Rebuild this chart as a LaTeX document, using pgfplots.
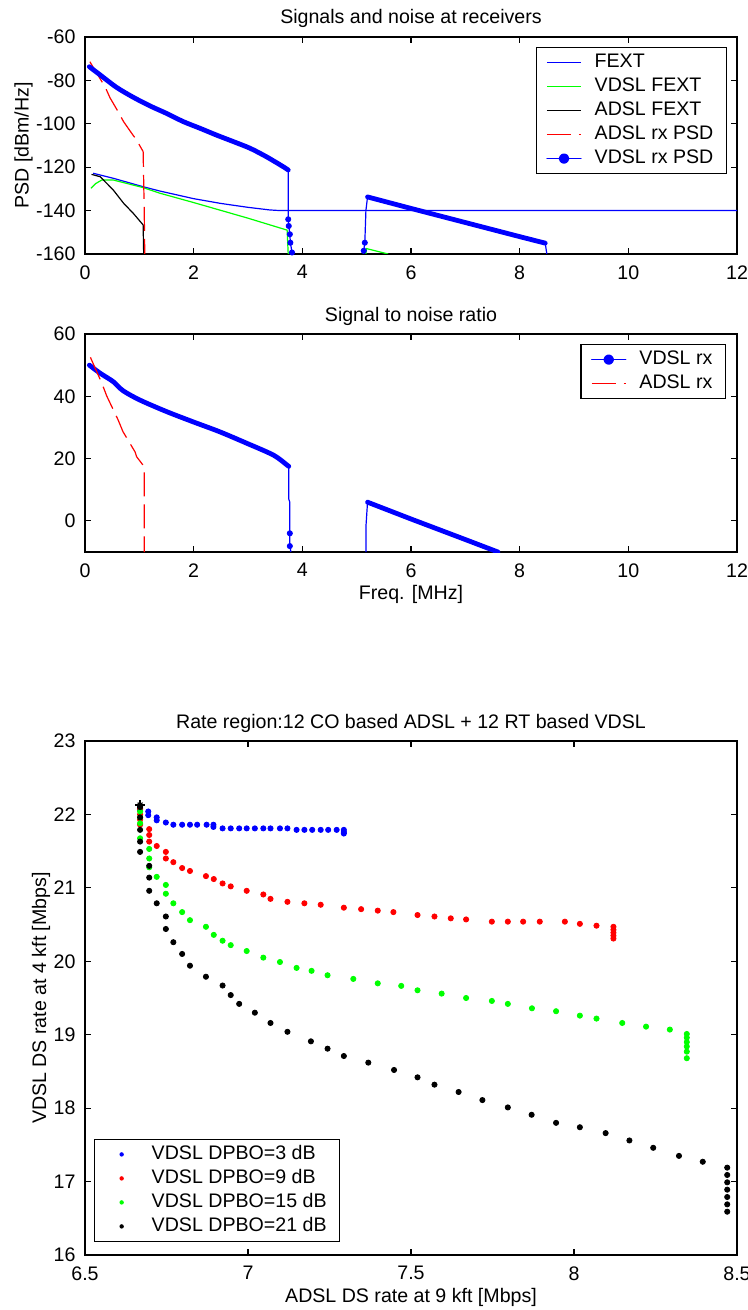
\documentclass[border=0pt]{standalone}
\usepackage{fontspec}
\setmainfont{Liberation Sans}
\usepackage{pgfplots}
\pgfplotsset{compat=1.18}

\definecolor{mblue}{RGB}{0,0,255}
\definecolor{mgreen}{RGB}{0,255,0}
\definecolor{mred}{RGB}{255,0,0}

\pgfplotsset{
  matfig/.style={
    scale only axis,
    width=326pt,
    tick align=inside,
    major tick length=3.2pt,
    axis line style={line width=0.6pt},
    every tick/.style={black,line width=0.6pt},
    /pgf/number format/assume math mode=true,
    xticklabel style={yshift=-2.2pt},
    yticklabel style={xshift=-1.3pt},
    title style={yshift=-5pt},
    ylabel shift=-5pt,
    xlabel shift=-2.5pt,
    legend cell align=left,
    legend style={draw=black, line width=0.6pt, inner xsep=5pt, inner ysep=1.5pt,
      column sep=5pt,
      nodes={inner sep=1.5pt, text height=7pt, text depth=2pt}},
  },
  thinl/.style={line width=0.6pt},
  band/.style={mblue, line width=2.4pt, line cap=round, line join=round},
  dotleg/.style={legend image code/.code={
      \draw[mblue, line width=0.6pt] (0cm,0cm) -- (0.6cm,0cm);
      \fill[mblue] (0.3cm,0cm) circle (1.4pt);}},
  rdash/.style={mred, line width=0.6pt, dash pattern=on 12pt off 4pt},
  rdot/.style={only marks, mark=*, mark size=1.3pt,
    legend image code/.code={
      \path[draw=none, fill=none] (0cm,0cm) -- (0.6cm,0cm);
      \fill[##1, draw=none] (0.3cm,0cm) circle (1.1pt);}},
}

\begin{document}
\fontsize{9.8}{11.8}\selectfont
\begin{tikzpicture}[font=\fontsize{9.8}{11.8}\selectfont]
\path[use as bounding box] (0,0) rectangle (374pt,-655pt);

% ---------- PSD ----------
\begin{axis}[matfig, at={(42.5pt,-127pt)}, anchor=south west, height=108.5pt,
  xmin=0, xmax=12, ymin=-160, ymax=-60,
  xtick={0,2,4,6,8,10,12}, ytick={-160,-140,-120,-100,-80,-60},
  yticklabels={-160,-140,-120,-100,-80,-60},
  ylabel={PSD [dBm/Hz]},
  title={Signals and noise at receivers},
  legend style={at={(1,1)}, anchor=north east, xshift=-5pt, yshift=-5pt},
]
\addplot[mblue, thinl] coordinates {
(0.15,-122.8) (0.52,-125.1) (1.07,-129) (1.38,-131) (2,-134.5) (2.5,-136.7)
(3,-138.5) (3.4,-139.7) (3.6,-140) (12,-140)};
\addlegendentry{FEXT}
\addplot[mgreen, thinl] coordinates {
(0.11,-129.7) (0.2,-127.5) (0.31,-125.9) (0.52,-125.9) (1.07,-129.4) (1.38,-132)
(2,-136.3) (3,-143.5) (3.72,-149) (3.74,-160)};
\addlegendentry{VDSL FEXT}
\addplot[mgreen, thinl, forget plot] coordinates {(5.17,-160) (5.18,-157.5) (5.58,-160)};
\addplot[black, thinl] coordinates {
(0.12,-123.3) (0.28,-124.4) (0.52,-130.5) (0.71,-136.6) (0.89,-141.3) (1.07,-146.6) (1.08,-160)};
\addlegendentry{ADSL FEXT}
\addplot[rdash] coordinates {
(0.09,-71.4) (0.2,-76) (0.37,-83) (0.46,-88) (0.6,-94) (0.71,-99) (0.86,-104.4)
(0.95,-107.5) (1.07,-112.8) (1.09,-140) (1.1,-160)};
\addlegendentry{ADSL rx PSD}
\addplot[band, dotleg, smooth] coordinates {
(0.08,-73.7) (0.28,-77.5) (0.58,-83.2) (0.89,-87.8) (1.2,-91.8) (1.5,-95.2)
(1.81,-99) (2.12,-102.1) (2.42,-105.2) (2.73,-108.2) (3.04,-111.3) (3.34,-115.2)
(3.65,-119.8) (3.74,-121.3)};
\addlegendentry{VDSL rx PSD\hspace{2pt}}
\addplot[mblue, thinl, forget plot] coordinates {
(3.74,-121.3) (3.74,-144) (3.75,-147.1) (3.77,-150.9) (3.78,-154.8) (3.81,-159.3) (3.82,-160)};
\addplot[mblue, rdot, forget plot] coordinates {
(3.74,-144) (3.75,-147.1) (3.77,-150.9) (3.78,-154.8) (3.81,-159.3)};
\addplot[mblue, thinl, forget plot] coordinates {
(5.12,-160) (5.13,-158.5) (5.15,-154.8) (5.17,-140) (5.2,-133.7)};
\addplot[mblue, rdot, forget plot] coordinates {(5.13,-158.5) (5.15,-154.8)};
\addplot[band, forget plot] coordinates {
(5.2,-133.7) (6,-139) (7,-145.5) (8,-152) (8.47,-155)};
\addplot[mblue, thinl, forget plot] coordinates {(8.47,-155) (8.5,-160)};
\end{axis}

% ---------- SNR ----------
\begin{axis}[matfig, at={(42.5pt,-276pt)}, anchor=south west, height=109pt,
  xmin=0, xmax=12, ymin=-10, ymax=60,
  xtick={0,2,4,6,8,10,12}, ytick={0,20,40,60},
  xlabel={Freq. [MHz]},
  title={Signal to noise ratio},
  legend style={at={(1,1)}, anchor=north east, xshift=-5.5pt, yshift=-5pt},
]
\addplot[band, dotleg, smooth] coordinates {
(0.08,50) (0.28,47.4) (0.52,44.7) (0.70,41.8) (1.01,38.8) (1.5,35.1) (1.99,31.8)
(2.48,28.6) (2.98,24.9) (3.47,21.1) (3.72,17.9) (3.75,17.5)};
\addlegendentry{VDSL rx\hspace{2pt}}
\addplot[mblue, thinl, forget plot] coordinates {
(3.75,17.5) (3.75,7) (3.77,6) (3.77,-4) (3.77,-8.1) (3.79,-10)};
\addplot[mblue, rdot, forget plot] coordinates {(3.77,-4) (3.77,-8.1)};
\addplot[mblue, thinl, forget plot] coordinates {(5.17,-10) (5.17,-2) (5.2,6)};
\addplot[band, forget plot] coordinates {(5.2,6) (6,0.6) (7,-6) (7.6,-10)};
\addplot[rdash] coordinates {
(0.1,52.5) (0.31,44.2) (0.40,40.1) (0.61,32.4) (0.70,28.6) (0.92,22.2) (0.95,20.6)
(1.09,17.4) (1.09,-10)};
\addlegendentry{ADSL rx}
\end{axis}

% ---------- rate region ----------
\begin{axis}[matfig, at={(42.5pt,-627.5pt)}, anchor=south west, height=257pt,
  xmin=6.5, xmax=8.5, ymin=16, ymax=23,
  xtick={6.5,7,7.5,8,8.5}, ytick={16,17,18,19,20,21,22,23},
  xlabel={ADSL DS rate at 9 kft [Mbps]},
  ylabel={VDSL DS rate at 4 kft [Mbps]},
  title={Rate region:12 CO based ADSL + 12 RT based VDSL},
  legend style={at={(0,0)}, anchor=south west, xshift=4.5pt, yshift=6.5pt},
]
\addplot[mblue, rdot] coordinates {
(6.669,22.11) (6.669,22.06) (6.694,22.04) (6.694,21.99) (6.720,21.96) (6.720,21.92)
(6.748,21.89) (6.771,21.86) (6.798,21.86) (6.822,21.86) (6.844,21.86) (6.873,21.86)
(6.894,21.86) (6.894,21.83) (6.922,21.81) (6.947,21.81) (6.973,21.81) (6.996,21.81)
(7.021,21.81) (7.047,21.81) (7.069,21.81) (7.098,21.81) (7.121,21.81) (7.149,21.79)
(7.173,21.79) (7.197,21.79) (7.223,21.79) (7.246,21.79) (7.272,21.79) (7.294,21.79)
(7.294,21.76) (7.294,21.74)};
\addlegendentry{VDSL DPBO=3 dB}
\addplot[mred, rdot] coordinates {
(6.669,22.08) (6.669,22.0) (6.669,21.93) (6.669,21.86) (6.697,21.80) (6.697,21.72)
(6.697,21.63) (6.720,21.57) (6.748,21.49) (6.748,21.40) (6.771,21.35) (6.798,21.27)
(6.822,21.23) (6.871,21.16) (6.895,21.12) (6.922,21.06) (6.947,21.02) (6.996,20.96)
(7.047,20.91) (7.069,20.85) (7.121,20.81) (7.173,20.79) (7.223,20.77) (7.294,20.73)
(7.347,20.71) (7.398,20.69) (7.446,20.67) (7.520,20.63) (7.572,20.61) (7.622,20.585)
(7.669,20.57) (7.748,20.54) (7.797,20.54) (7.844,20.54) (7.895,20.54) (7.972,20.54)
(8.018,20.51) (8.069,20.485) (8.121,20.47) (8.121,20.43) (8.121,20.39) (8.121,20.35)
(8.121,20.31)};
\addlegendentry{VDSL DPBO=9 dB}
\addplot[mgreen, rdot] coordinates {
(6.669,22.04) (6.669,21.96) (6.669,21.88) (6.669,21.675) (6.697,21.53) (6.697,21.40)
(6.697,21.28) (6.720,21.15) (6.748,21.04) (6.748,20.92) (6.771,20.79) (6.798,20.67)
(6.822,20.56) (6.871,20.47) (6.895,20.36) (6.922,20.28) (6.947,20.22) (6.996,20.14)
(7.047,20.05) (7.098,19.99) (7.149,19.91) (7.195,19.87) (7.244,19.81) (7.323,19.76)
(7.398,19.70) (7.470,19.665) (7.520,19.605) (7.594,19.56) (7.669,19.50) (7.748,19.46)
(7.797,19.42) (7.871,19.36) (7.945,19.32) (8.018,19.26) (8.069,19.22) (8.148,19.16)
(8.221,19.11) (8.294,19.07) (8.346,19.01) (8.346,18.96) (8.346,18.90) (8.346,18.84)
(8.346,18.77) (8.346,18.68)};
\addlegendentry{VDSL DPBO=15 dB\hspace{2pt}}
\addplot[black, rdot] coordinates {
(6.669,22.10) (6.669,21.96) (6.669,21.79) (6.669,21.63) (6.669,21.49) (6.697,21.30)
(6.697,21.14) (6.697,20.96) (6.720,20.79) (6.748,20.61) (6.748,20.44) (6.771,20.26)
(6.798,20.10) (6.822,19.94) (6.871,19.79) (6.922,19.67) (6.947,19.54) (6.973,19.42)
(7.021,19.30) (7.069,19.16) (7.121,19.04) (7.193,18.91) (7.244,18.81) (7.294,18.71)
(7.369,18.62) (7.448,18.52) (7.520,18.42) (7.572,18.32) (7.646,18.22) (7.719,18.11)
(7.797,18.01) (7.870,17.91) (7.945,17.80) (8.018,17.74) (8.097,17.66) (8.170,17.56)
(8.243,17.46) (8.322,17.35) (8.395,17.27) (8.470,17.19) (8.470,17.09) (8.470,16.99)
(8.470,16.89) (8.470,16.79) (8.470,16.69) (8.470,16.59)};
\addlegendentry{VDSL DPBO=21 dB}
\addplot[black, only marks, mark=+, mark size=2.3pt, thinl, forget plot] coordinates {(6.669,22.128)};
\addplot[black, only marks, mark=x, mark size=1.7pt, thinl, forget plot] coordinates {(6.669,22.128)};
\end{axis}
\end{tikzpicture}
\end{document}
